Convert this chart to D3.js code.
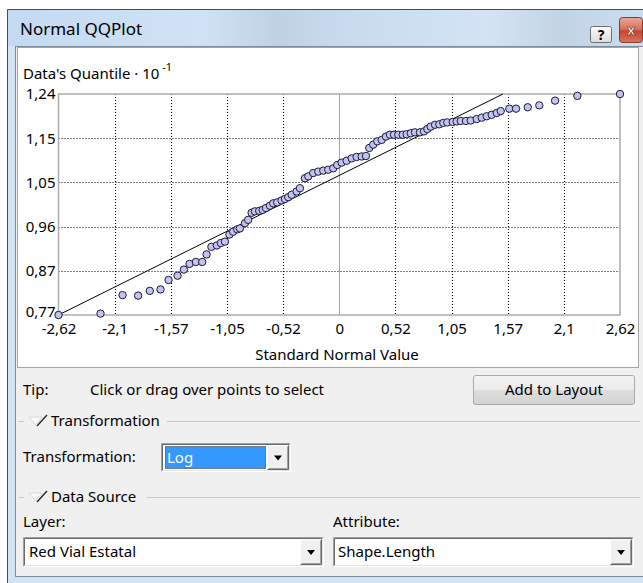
<!DOCTYPE html>
<meta charset="utf-8">

<style>

* {
	margin: 0;
	padding: 0;
}

body {
	background: #fff;
}

svg {
	display: block;
}

text {
	font-family: "Noto Sans", "Open Sans", sans-serif;
	fill: #000;
}

.tick text {
	font-size: 15px;
}

.grid {
	stroke: #000;
	stroke-width: 1.1;
	stroke-dasharray: 1,2;
}

.point {
	fill: #c2c2f4;
	stroke: #1c1c30;
	stroke-width: 1;
}

</style>

<body>

<script src="https://cdn.jsdelivr.net/npm/d3@7/dist/d3.min.js"></script>

<script>

// standard normal value of each point
var qqX = [-2.62, -2.228, -2.022, -1.877, -1.768, -1.668, -1.593, -1.509, -1.450, -1.397,
	-1.338, -1.279, -1.238, -1.193, -1.142, -1.105, -1.067, -1.025, -0.990, -0.952,
	-0.927, -0.880, -0.850, -0.818, -0.787, -0.747, -0.715, -0.684, -0.647, -0.616,
	-0.579, -0.538, -0.507, -0.476, -0.444, -0.398, -0.367, -0.320, -0.289, -0.243,
	-0.196, -0.149, -0.103, -0.056, -0.019, 0.022, 0.069, 0.116, 0.162, 0.209,
	0.249, 0.280, 0.317, 0.355, 0.396, 0.436, 0.473, 0.511, 0.551, 0.592,
	0.629, 0.667, 0.707, 0.753, 0.791, 0.822, 0.853, 0.894, 0.934, 0.971,
	1.008, 1.059, 1.096, 1.134, 1.183, 1.227, 1.283, 1.330, 1.376, 1.423,
	1.470, 1.507, 1.587, 1.650, 1.759, 1.867, 2.014, 2.222, 2.62];

// data's quantile (x 10^-1)
var qqY = [0.773, 0.776, 0.815, 0.814, 0.824, 0.827, 0.847, 0.856, 0.869, 0.881,
	0.885, 0.885, 0.901, 0.917, 0.920, 0.925, 0.928, 0.943, 0.949, 0.954,
	0.956, 0.967, 0.974, 0.989, 0.992, 0.993, 0.995, 0.999, 1.004, 1.009,
	1.011, 1.015, 1.018, 1.022, 1.027, 1.034, 1.041, 1.062, 1.066, 1.073,
	1.076, 1.078, 1.080, 1.083, 1.090, 1.095, 1.099, 1.104, 1.107, 1.108,
	1.109, 1.126, 1.133, 1.140, 1.143, 1.150, 1.154, 1.154, 1.154, 1.154,
	1.155, 1.157, 1.159, 1.159, 1.161, 1.166, 1.171, 1.175, 1.176, 1.179,
	1.180, 1.181, 1.182, 1.183, 1.183, 1.184, 1.187, 1.190, 1.193, 1.196,
	1.200, 1.204, 1.209, 1.209, 1.212, 1.216, 1.226, 1.236, 1.240];

var xTickValues = [-2.62, -2.096, -1.572, -1.048, -0.524, 0, 0.524, 1.048, 1.572, 2.096, 2.62];
var xTickLabels = ["-2,62", "-2,1", "-1,57", "-1,05", "-0,52", "0", "0,52", "1,05", "1,57", "2,1", "2,62"];

var yTickValues = [0.773, 0.8664, 0.9598, 1.0532, 1.1466, 1.24];
var yTickLabels = ["0,77", "0,87", "0,96", "1,05", "1,15", "1,24"];

// reference line  y = a + b*x
var refIntercept = 1.068,
    refSlope = 0.1126;

var width = 643,
    height = 583;

var plotLeft = 58.5,
    plotRight = 620,
    plotTop = 94,
    plotBottom = 315;

var svg = d3.select("body").append("svg")
    .attr("width", width)
    .attr("height", height);

var defs = svg.append("defs");

function gradient(id, stops, vertical) {
	var g = defs.append("linearGradient").attr("id", id);
	if(vertical) g.attr("x1", 0).attr("y1", 0).attr("x2", 0).attr("y2", 1);
	stops.forEach(function(s) {
		g.append("stop").attr("offset", s[0]).attr("stop-color", s[1]);
	});
}

gradient("titlebar", [[0, "#c4daf1"], [0.3, "#d0e2f5"], [0.42, "#c0d1e3"], [0.52, "#c8dbee"],
	[0.75, "#d3e3f4"], [0.86, "#c2d3e4"], [1, "#cbdef1"]]);
gradient("closebtn", [[0, "#eaa998"], [0.45, "#d9725c"], [0.55, "#c7462c"], [1, "#d8765c"]], true);
gradient("helpbtn", [[0, "#fbfbfb"], [1, "#dcdcdc"]], true);
gradient("button", [[0, "#f3f3f3"], [0.5, "#ebebeb"], [0.5, "#dddddd"], [1, "#d3d3d3"]], true);

// window frame
svg.append("rect")
    .attr("x", 7).attr("y", 9)
    .attr("width", width).attr("height", height)
    .attr("fill", "#d3e3f3");

svg.append("rect")
    .attr("x", 8).attr("y", 10)
    .attr("width", width).attr("height", 36)
    .attr("fill", "url(#titlebar)");

svg.append("path")
    .attr("d", "M7.5," + height + "V9.5H" + width)
    .attr("fill", "none")
    .attr("stroke", "#4a4a4a");

// client area
svg.append("rect")
    .attr("x", 15.5).attr("y", 46.5)
    .attr("width", width).attr("height", 530)
    .attr("fill", "#f0f0f0")
    .attr("stroke", "#7d8a98");

// title
svg.append("text")
    .attr("x", 20).attr("y", 35)
    .style("font-size", "17px")
    .attr("fill", "#1a1a1a")
    .text("Normal QQPlot");

// help button
svg.append("rect")
    .attr("x", 590.5).attr("y", 26.5)
    .attr("width", 21).attr("height", 16).attr("rx", 2)
    .attr("fill", "url(#helpbtn)")
    .attr("stroke", "#6f6f6f");

svg.append("text")
    .attr("x", 601).attr("y", 40)
    .attr("text-anchor", "middle")
    .style("font-size", "14px")
    .style("font-weight", "bold")
    .text("?");

// close button
svg.append("rect")
    .attr("x", 619.5).attr("y", 17.5)
    .attr("width", 23).attr("height", 25).attr("rx", 3)
    .attr("fill", "url(#closebtn)")
    .attr("stroke", "#8a3a2a");

svg.append("text")
    .attr("x", 631).attr("y", 35)
    .attr("text-anchor", "middle")
    .style("font-size", "14px")
    .style("font-weight", "bold")
    .style("fill", "#fff")
    .attr("stroke", "#6a2a1a")
    .attr("stroke-width", 0.6)
    .text("x");

// chart panel
svg.append("rect")
    .attr("x", 17.5).attr("y", 47.5)
    .attr("width", 621).attr("height", 320)
    .attr("fill", "#fff")
    .attr("stroke", "#a5a5a5");

// scales
var x = d3.scaleLinear()
    .domain([-2.62, 2.62])
    .range([plotLeft, plotRight]);

var y = d3.scaleLinear()
    .domain([0.773, 1.24])
    .range([plotBottom, plotTop]);

var chart = svg.append("g");

// grid
chart.selectAll(".vgrid")
    .data(xTickValues.filter(function(d, i) { return i > 0 && i < xTickValues.length - 1; }))
  .enter().append("line")
    .attr("class", function(d) { return d === 0 ? "zero" : "grid"; })
    .attr("x1", function(d) { return Math.round(x(d)) + 0.5; })
    .attr("x2", function(d) { return Math.round(x(d)) + 0.5; })
    .attr("y1", plotTop)
    .attr("y2", plotBottom)
    .attr("stroke", function(d) { return d === 0 ? "#a8a8a8" : null; });

chart.selectAll(".hgrid")
    .data(yTickValues.slice(1, -1))
  .enter().append("line")
    .attr("class", "grid")
    .attr("x1", plotLeft)
    .attr("x2", plotRight)
    .attr("y1", function(d) { return Math.round(y(d)) + 0.5; })
    .attr("y2", function(d) { return Math.round(y(d)) + 0.5; });

// plot frame
chart.append("rect")
    .attr("x", plotLeft).attr("y", plotTop)
    .attr("width", plotRight - plotLeft).attr("height", plotBottom - plotTop)
    .attr("fill", "none")
    .attr("stroke", "#acacac")
    .attr("stroke-width", 1.5);

// reference line, clipped to the plot
var refX0 = x.domain()[0],
    refX1 = Math.min(x.domain()[1], (y.domain()[1] - refIntercept) / refSlope);

chart.append("line")
    .attr("x1", x(refX0))
    .attr("y1", y(refIntercept + refSlope * refX0))
    .attr("x2", x(refX1))
    .attr("y2", y(refIntercept + refSlope * refX1))
    .attr("stroke", "#000")
    .attr("stroke-width", 1);

// points
chart.selectAll(".point")
    .data(qqX.map(function(d, i) { return [d, qqY[i]]; }))
  .enter().append("circle")
    .attr("class", "point")
    .attr("cx", function(d) { return x(d[0]); })
    .attr("cy", function(d) { return y(d[1]); })
    .attr("r", 3.7);

// axes
var xAxis = d3.axisBottom(x)
    .tickValues(xTickValues)
    .tickFormat(function(d, i) { return xTickLabels[i]; })
    .tickSize(0)
    .tickPadding(8);

chart.append("g")
    .attr("transform", "translate(0," + plotBottom + ")")
    .call(xAxis)
    .call(function(g) { g.select(".domain").remove(); })
    .selectAll("text")
    .attr("fill", "#000");

var yAxis = d3.axisLeft(y)
    .tickValues(yTickValues)
    .tickFormat(function(d, i) { return yTickLabels[i]; })
    .tickSize(0)
    .tickPadding(3);

chart.append("g")
    .attr("transform", "translate(" + plotLeft + ",0)")
    .call(yAxis)
    .call(function(g) { g.select(".domain").remove(); })
    .selectAll("text")
    .attr("fill", "#000")
    .attr("dy", function(d, i) { return i === 0 ? "0.1em" : "0.32em"; });

svg.selectAll("g").attr("font-family", null).attr("font-size", null);

// axis titles
var yTitle = chart.append("text")
    .attr("x", 23).attr("y", 79)
    .style("font-size", "15px");
yTitle.append("tspan").text("Data's Quantile \u00b7 10");
yTitle.append("tspan")
    .attr("dx", 3).attr("dy", -8)
    .style("font-size", "11px")
    .text("-1");

chart.append("text")
    .attr("x", 337).attr("y", 360)
    .attr("text-anchor", "middle")
    .style("font-size", "15px")
    .text("Standard Normal Value");

// controls below the chart
function label(tx, ty, str) {
	return svg.append("text")
	    .attr("x", tx).attr("y", ty)
	    .style("font-size", "15px")
	    .text(str);
}

function sunken(bx, by, bw, bh) {
	var g = svg.append("g");
	g.append("rect")
	    .attr("x", bx).attr("y", by)
	    .attr("width", bw).attr("height", bh)
	    .attr("fill", "#fff");
	g.append("path")
	    .attr("d", "M" + (bx + 0.5) + "," + (by + bh - 0.5) + "V" + (by + 0.5) + "H" + (bx + bw - 0.5))
	    .attr("fill", "none").attr("stroke", "#a0a0a0");
	g.append("path")
	    .attr("d", "M" + (bx + 1.5) + "," + (by + bh - 1.5) + "V" + (by + 1.5) + "H" + (bx + bw - 1.5))
	    .attr("fill", "none").attr("stroke", "#696969");
	g.append("path")
	    .attr("d", "M" + (bx + 0.5) + "," + (by + bh - 0.5) + "H" + (bx + bw - 0.5) + "V" + (by + 0.5))
	    .attr("fill", "none").attr("stroke", "#fff");
	g.append("path")
	    .attr("d", "M" + (bx + 1.5) + "," + (by + bh - 1.5) + "H" + (bx + bw - 1.5) + "V" + (by + 1.5))
	    .attr("fill", "none").attr("stroke", "#e3e3e3");

	// drop-down button
	var dx = bx + bw - 24, dy = by + 2, dw = 22, dh = bh - 4;
	g.append("rect")
	    .attr("x", dx).attr("y", dy)
	    .attr("width", dw).attr("height", dh)
	    .attr("fill", "#f0f0f0");
	g.append("path")
	    .attr("d", "M" + (dx + 0.5) + "," + (dy + dh - 0.5) + "V" + (dy + 0.5) + "H" + (dx + dw - 0.5))
	    .attr("fill", "none").attr("stroke", "#fff");
	g.append("path")
	    .attr("d", "M" + (dx + 0.5) + "," + (dy + dh - 0.5) + "H" + (dx + dw - 0.5) + "V" + (dy + 0.5))
	    .attr("fill", "none").attr("stroke", "#696969");
	g.append("path")
	    .attr("d", "M" + (dx + 1.5) + "," + (dy + dh - 1.5) + "H" + (dx + dw - 1.5) + "V" + (dy + 1.5))
	    .attr("fill", "none").attr("stroke", "#a0a0a0");
	var cx = dx + dw / 2, cy = dy + dh / 2;
	g.append("path")
	    .attr("d", "M" + (cx - 4) + "," + (cy - 2) + "H" + (cx + 4) + "L" + cx + "," + (cy + 3) + "Z")
	    .attr("fill", "#000");
	return g;
}

function groupHeader(gy, str, lineStart) {
	svg.append("line")
	    .attr("x1", 18).attr("x2", 24)
	    .attr("y1", gy + 0.5).attr("y2", gy + 0.5)
	    .attr("stroke", "#c8c8c8");
	svg.append("path")
	    .attr("d", "M29," + (gy - 4) + "H42L35.5," + (gy + 4) + "Z")
	    .attr("fill", "#fafafa")
	    .attr("stroke", "#d8d8d8");
	svg.append("line")
	    .attr("x1", 37).attr("y1", gy + 5)
	    .attr("x2", 47).attr("y2", gy - 6)
	    .attr("stroke", "#222")
	    .attr("stroke-width", 1.3);
	label(51, gy + 5, str);
	svg.append("line")
	    .attr("x1", lineStart).attr("x2", 640)
	    .attr("y1", gy + 0.5).attr("y2", gy + 0.5)
	    .attr("stroke", "#c8c8c8");
}

label(23, 395, "Tip:");
label(90, 395, "Click or drag over points to select");

svg.append("rect")
    .attr("x", 473.5).attr("y", 375.5)
    .attr("width", 161).attr("height", 29).attr("rx", 2)
    .attr("fill", "url(#button)")
    .attr("stroke", "#a8a8a8");

label(554, 395, "Add to Layout").attr("text-anchor", "middle");

groupHeader(421, "Transformation", 167);

label(23, 462, "Transformation:");
sunken(161, 443, 130, 29);

svg.append("rect")
    .attr("x", 165.5).attr("y", 446.5)
    .attr("width", 100).attr("height", 22)
    .attr("fill", "#3399ff")
    .attr("stroke", "#3a2a10")
    .attr("stroke-dasharray", "1,1");

label(167, 463, "Log").style("fill", "#fff");

groupHeader(497, "Data Source", 146);

label(23, 527, "Layer:");
label(333, 527, "Attribute:");

sunken(23, 537, 301, 30);
label(29, 557, "Red Vial Estatal");

sunken(333, 537, 301, 30);
label(338, 557, "Shape.Length");

</script>
